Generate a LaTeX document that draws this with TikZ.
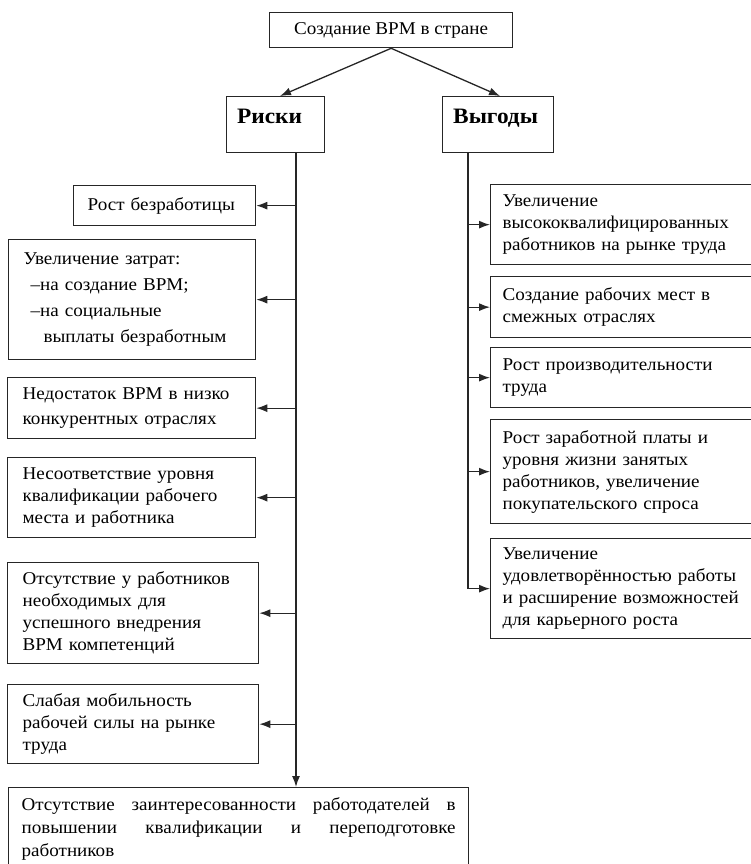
\documentclass[tikz,border=0pt]{standalone}
\usepackage{fontspec}
\setmainfont{Liberation Serif}[FakeStretch=1.06]
\usetikzlibrary{arrows.meta,calc}
\tikzset{
  box/.style={draw=black!85, line width=1.3pt, anchor=north west, align=left,
    inner ysep=2pt, font=\fontsize{18}{22}\selectfont},
  arr/.style={draw=black!85, line width=1.3pt, -{Latex[length=11pt,width=8pt]}},
  head/.style={font=\fontsize{22}{24}\selectfont\bfseries, anchor=base west, inner sep=0pt}
}
\begin{document}
\begin{tikzpicture}[x=1pt,y=-1pt]
\useasboundingbox (0,0) rectangle (751,864);
\clip (0,0) rectangle (751,864);
% title
\node[box, align=center, minimum width=243pt, minimum height=35pt, inner xsep=4pt] (title) at (269,12) {Создание ВРМ в стране};
% heads
\node[box, minimum width=98pt, minimum height=56pt] (risk) at (226,96) {};
\node[head] (risklbl) at (237,124) {Риски};
\node[box, minimum width=111pt, minimum height=56pt] (ben) at (442,96) {};
\node[head] (benlbl) at (453,124) {Выгоды};
% risks
\node[box, inner xsep=14pt, text width=154pt, minimum height=40pt] (r1) at (73,185) {Рост безработицы};
\node[box, inner xsep=15pt, text width=217pt, minimum height=120pt, font=\fontsize{18}{26}\selectfont] (r2) at (8,239) {Увеличение затрат:\\\hspace*{7pt}–на создание ВРМ;\\\hspace*{7pt}–на социальные\\\hspace*{20pt}выплаты безработным};
\node[box, inner xsep=15pt, text width=218pt, minimum height=61pt, font=\fontsize{18}{25}\selectfont] (r3) at (7,377) {Недостаток ВРМ в низко\\конкурентных отраслях};
\node[box, inner xsep=15pt, text width=218pt, minimum height=80pt] (r4) at (7,457) {Несоответствие уровня\\квалификации рабочего\\места и работника};
\node[box, inner xsep=15pt, text width=221pt, minimum height=101pt] (r5) at (7,562) {Отсутствие у работников\\необходимых для\\успешного внедрения\\ВРМ компетенций};
\node[box, inner xsep=15pt, text width=221pt, minimum height=79pt] (r6) at (7,684) {Слабая мобильность\\рабочей силы на рынке\\труда};
\node[box, inner xsep=13pt, text width=434pt, minimum height=82pt, align=justify, font=\fontsize{18}{23}\selectfont] (r7) at (8,787) {Отсутствие заинтересованности работодателей в\linebreak повышении квалификации и переподготовке\linebreak работников};
% benefits
\node[box, inner xsep=12pt, text width=246pt, minimum height=80pt] (b1) at (490,184) {Увеличение\\высококвалифицированных\\работников на рынке труда};
\node[box, inner xsep=12pt, text width=246pt, minimum height=61pt] (b2) at (490,276) {Создание рабочих мест в\\смежных отраслях};
\node[box, inner xsep=12pt, text width=246pt, minimum height=60pt] (b3) at (490,347) {Рост производительности\\труда};
\node[box, inner xsep=12pt, text width=246pt, minimum height=104pt] (b4) at (490,419) {Рост заработной платы и\\уровня жизни занятых\\работников, увеличение\\покупательского спроса};
\node[box, inner xsep=12pt, text width=246pt, minimum height=100pt] (b5) at (490,538) {Увеличение\\удовлетворённостью работы\\и расширение возможностей\\для карьерного роста};
% connectors top
\coordinate (rtip) at (280,96);
\coordinate (btip) at (500,96);
\draw[arr] (title.south) -- (rtip);
\draw[arr] (title.south) -- (btip);
% risk trunk
\coordinate (rtop) at (296,152);
\draw[arr] (rtop) -- (rtop |- r7.north);
\foreach \n in {r1,r2,r3,r4,r5,r6}{
  \draw[arr] (rtop |- \n.east) -- (\n.east);
}
% benefit trunk
\coordinate (btop) at (468,152);
\draw[arr] (btop) -- (btop |- b5.west) -- (b5.west);
\foreach \n in {b1,b2,b3,b4}{
  \draw[arr] (btop |- \n.west) -- (\n.west);
}
\end{tikzpicture}
\end{document}
